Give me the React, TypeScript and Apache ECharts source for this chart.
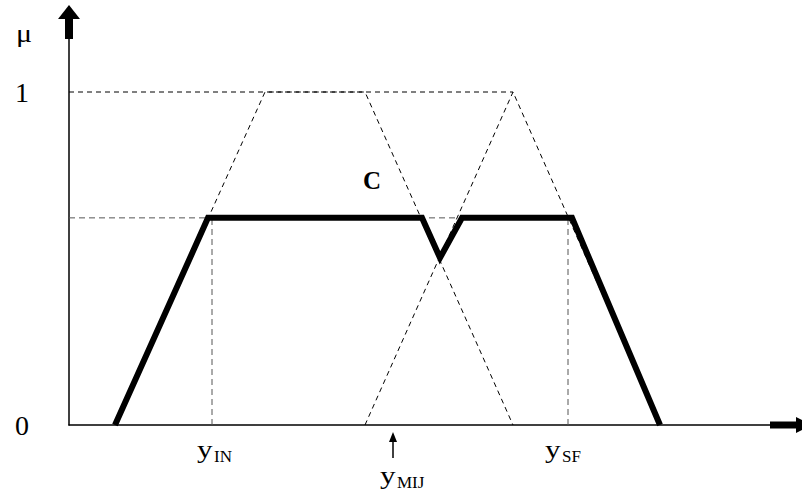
import React, { useEffect, useRef } from "react";
import * as echarts from "echarts";

// x in horizontal units (0 at the μ axis), y = membership degree μ
const resultC: [number, number][] = [
  [46, 0], [139, 0.622], [353, 0.622], [371, 0.502], [393, 0.622], [503, 0.622], [591, 0],
];
const setIN: [number, number][] = [[46, 0], [196, 1], [296, 1], [444, 0]];
const setSF: [number, number][] = [[296, 0], [444, 1], [591, 0]];
const levelOne: [number, number][] = [[0, 1], [444, 1]];
const levelCut: [number, number][] = [[0, 0.622], [499, 0.622]];
const dropIN: [number, number][] = [[143, 0], [143, 0.622]];
const dropSF: [number, number][] = [[499, 0], [499, 0.622]];
const yTicks = [0, 1];

const SERIF = "'Liberation Serif', 'Times New Roman', serif";

export default function App() {
  const ref = useRef<HTMLDivElement>(null);
  useEffect(() => {
    if (!ref.current) return;
    const chart = echarts.init(ref.current, undefined, { renderer: "svg" });
    const dashBlack = { color: "#000", width: 1, type: [5, 4] as any };
    const dashGray = { color: "#555", width: 1, type: [6, 4] as any };
    const mk = (name: string, data: [number, number][], lineStyle: any, z = 2) => ({
      name,
      type: "line",
      data,
      symbol: "none",
      silent: true,
      lineStyle,
      z,
    });
    const txt = (text: string, x: number, y: number, size: number, opts: any = {}) => ({
      type: "text",
      x,
      y,
      scaleX: opts.scaleX ?? 1,
      style: {
        text,
        font: `${opts.bold ? "bold " : ""}${size}px ${SERIF}`,
        fill: "#000",
        textAlign: opts.align ?? "left",
        textVerticalAlign: "middle",
      },
    });
    chart.setOption({
      animation: false,
      backgroundColor: "#fff",
      grid: { left: 69, right: 0, top: 38.72, bottom: 67 },
      xAxis: {
        type: "value",
        min: 0,
        max: 733,
        axisLine: { show: true, lineStyle: { color: "#000", width: 1.5 } },
        axisTick: { show: false },
        axisLabel: { show: false },
        splitLine: { show: false },
      },
      yAxis: {
        type: "value",
        min: 0,
        max: 1.16,
        interval: 1,
        axisLine: { show: true, lineStyle: { color: "#000", width: 1.5 } },
        axisTick: { show: false },
        splitLine: { show: false },
        axisLabel: {
          show: true,
          margin: 40,
          showMaxLabel: false,
          color: "#000",
          fontFamily: SERIF,
          fontSize: 28,
          formatter: (v: number) => (yTicks.includes(v) ? String(v) : ""),
        },
      },
      series: [
        mk("IN", setIN, dashBlack),
        mk("SF", setSF, dashBlack),
        mk("one", levelOne, dashBlack),
        mk("cut", levelCut, dashGray),
        mk("dropIN", dropIN, dashGray),
        mk("dropSF", dropSF, dashGray),
        mk("C", resultC, { color: "#000", width: 6, join: "miter" }, 5),
      ],
      graphic: [
        // axis arrows
        { type: "rect", shape: { x: 65, y: 17, width: 8, height: 22 }, style: { fill: "#000" } },
        { type: "polygon", shape: { points: [[58, 19], [80, 19], [69, 5]] }, style: { fill: "#000" } },
        { type: "rect", shape: { x: 770, y: 421.5, width: 28, height: 7 }, style: { fill: "#000" } },
        { type: "polygon", shape: { points: [[796, 417], [796, 433], [812, 425]] }, style: { fill: "#000" } },
        // yMIJ pointer
        { type: "line", shape: { x1: 393, y1: 458, x2: 393, y2: 440 }, style: { stroke: "#000", lineWidth: 1.5 } },
        { type: "polygon", shape: { points: [[389, 442], [397, 442], [393, 432]] }, style: { fill: "#000" } },
        // labels
        txt("μ", 16, 33, 26, { scaleX: 1.15 }),
        txt("C", 372, 180, 25, { align: "center", bold: true }),
        txt("y", 197, 449, 26, { scaleX: 1.2 }),
        txt("IN", 214, 456, 17),
        txt("y", 545, 449, 26, { scaleX: 1.2 }),
        txt("SF", 562, 456, 17),
        txt("y", 380, 475, 26, { scaleX: 1.2 }),
        txt("MIJ", 397, 482, 17),
      ],
    });
    return () => chart.dispose();
  }, []);
  return (
    <div
      ref={ref}
      style={{ position: "fixed", left: 0, top: 0, width: 802, height: 492 }}
    />
  );
}
